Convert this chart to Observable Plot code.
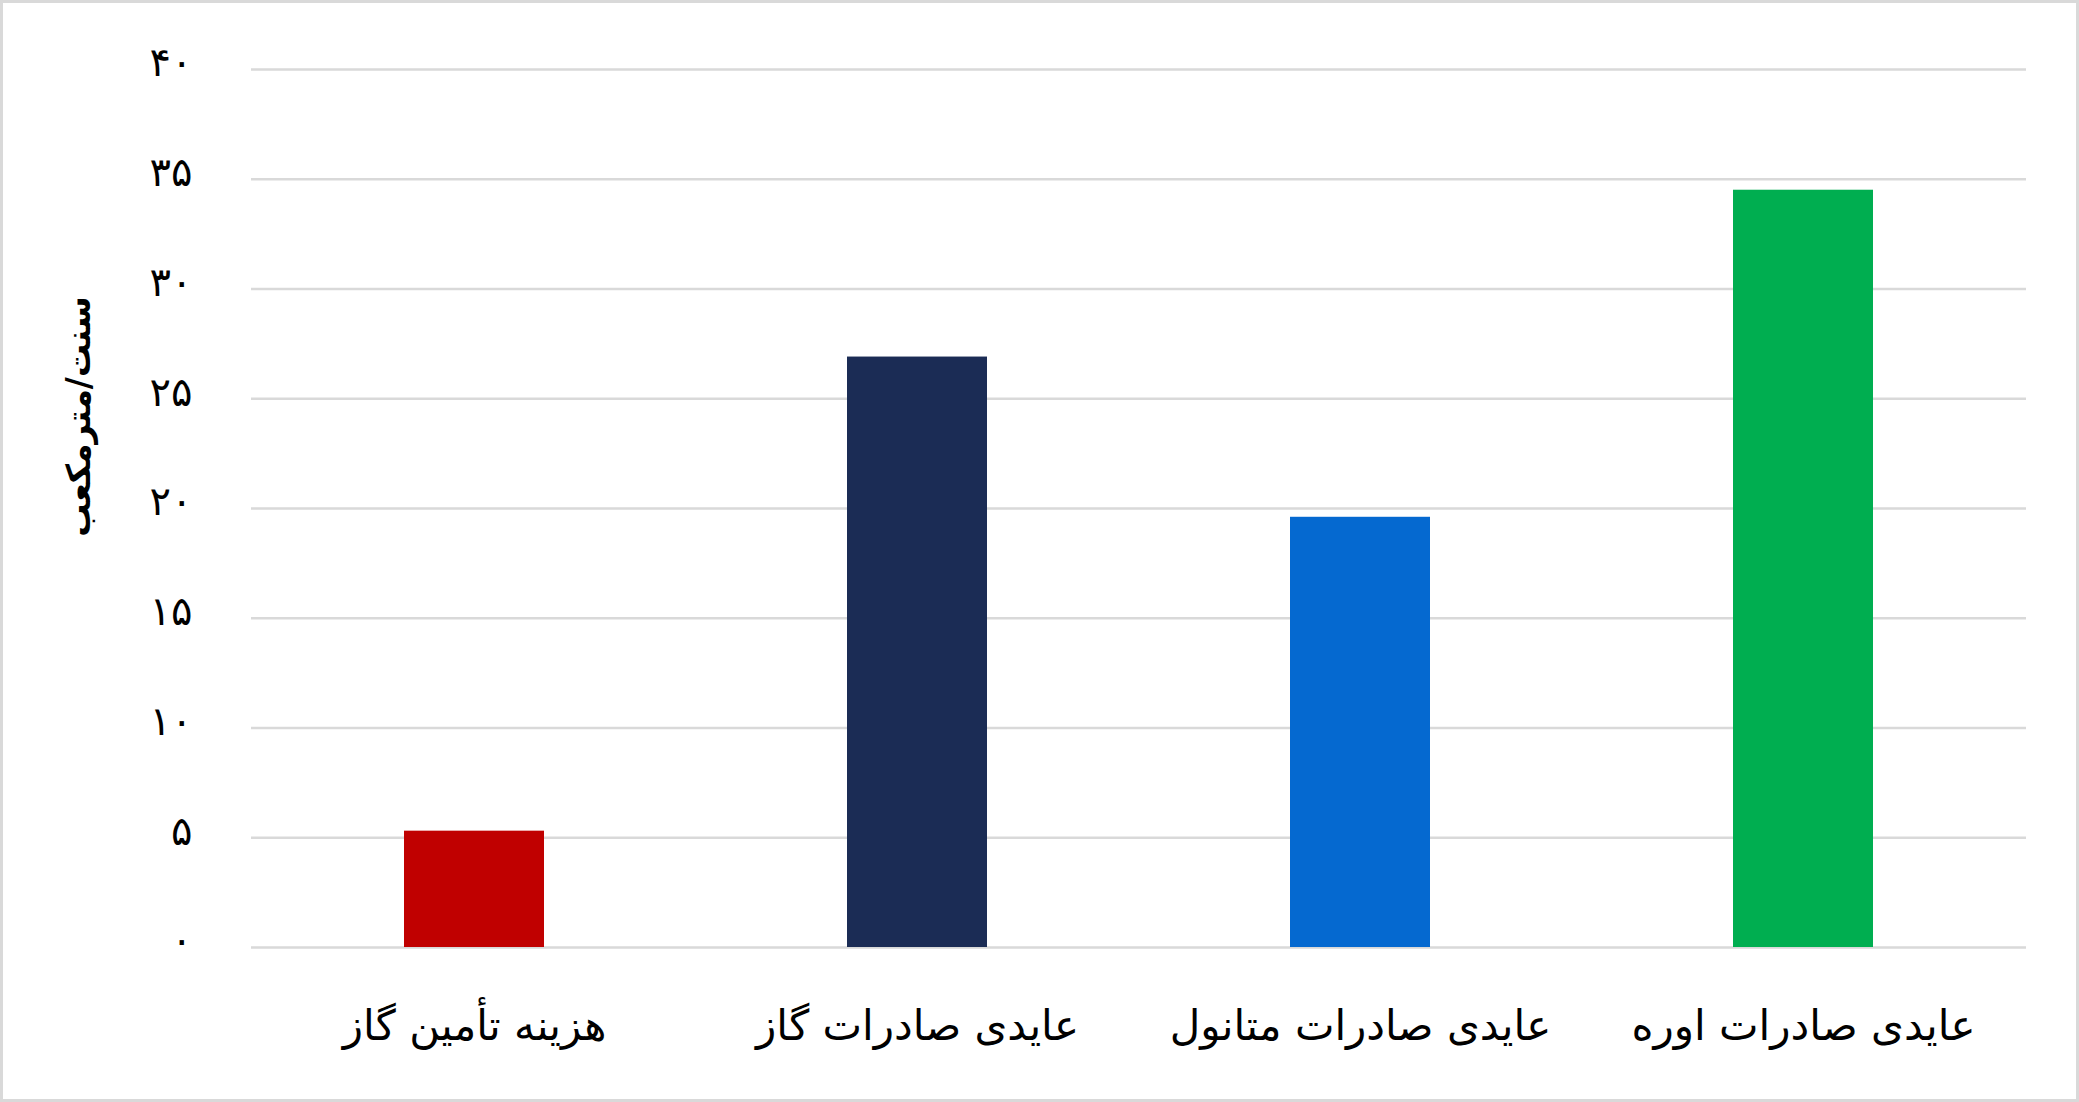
<!DOCTYPE html>
<html>
<head>
<meta charset="utf-8">
<script src="https://cdn.jsdelivr.net/npm/d3@7"></script>
<script src="https://cdn.jsdelivr.net/npm/@observablehq/plot@0.6"></script>
<style>
  html, body { margin: 0; padding: 0; background: #fff; }
  #chart svg { display: block; outline: 3px solid #d9d9d9; outline-offset: -3px; }
</style>
</head>
<body>
<div id="chart"></div>
<script>
const categories = ["هزینه تأمین گاز", "عایدی صادرات گاز", "عایدی صادرات متانول", "عایدی صادرات اوره"];
const values = [5.3, 26.9, 19.6, 34.5];
const colors = ["#C00000", "#1B2C55", "#0569D0", "#00AE50"];
const yTicks = [0, 5, 10, 15, 20, 25, 30, 35, 40];
const yLabel = "سنت/مترمکعب";

const fa = d => String(d).replace(/\d/g, c => "۰۱۲۳۴۵۶۷۸۹"[+c]);
const data = categories.map((c, i) => ({category: c, value: values[i], color: colors[i]}));

const chart = Plot.plot({
  width: 2079,
  height: 1102,
  marginLeft: 251,
  marginRight: 53,
  marginTop: 69,
  marginBottom: 155,
  style: {fontFamily: "'DejaVu Sans', sans-serif", background: "#fff", color: "#000"},
  x: {domain: categories, paddingInner: 0.685, paddingOuter: 0.3425, label: null},
  y: {domain: [0, 40], ticks: yTicks, label: null},
  marks: [
    Plot.ruleY(yTicks, {stroke: "#d9d9d9", strokeWidth: 2.5}),
    Plot.barY(data, {x: "category", y: "value", fill: "color"}),
    Plot.axisX({tickSize: 0, tickPadding: 63, fontSize: 42, label: null}),
    Plot.axisY({ticks: yTicks, tickSize: 0, tickPadding: 59, fontSize: 40, dy: -6, tickFormat: fa, label: null}),
    Plot.text([yLabel], {frameAnchor: "top-left", dx: -172, dy: 347, rotate: -90, textAnchor: "middle", lineAnchor: "middle", fontSize: 33, fontWeight: "bold", fill: "#000"})
  ]
});
document.getElementById("chart").appendChild(chart);
</script>
</body>
</html>
